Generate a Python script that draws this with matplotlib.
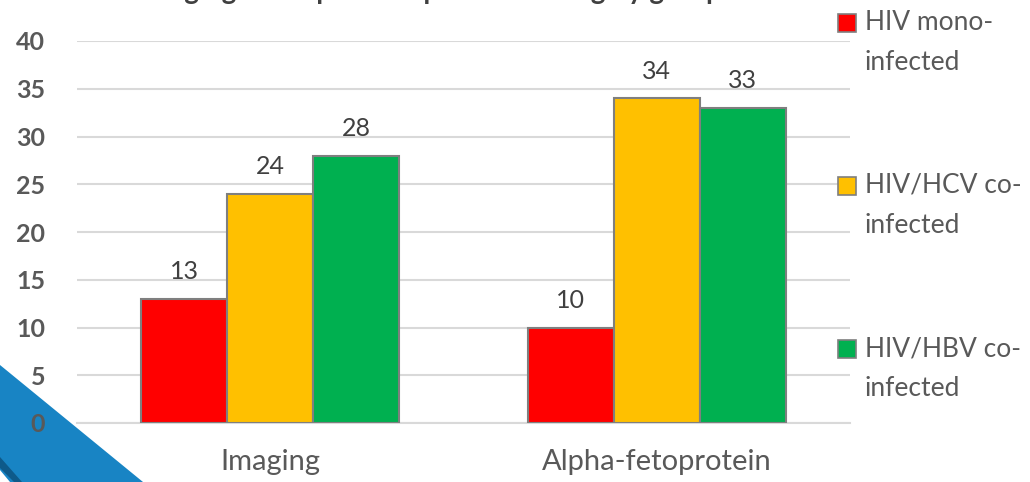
import matplotlib
matplotlib.use("Agg")
import matplotlib.pyplot as plt
from matplotlib.patches import Polygon, Rectangle
import numpy as np

plt.rcParams['font.family'] = ['Lato', 'DejaVu Sans']

# Data
categories = ["Imaging", "Alpha-fetoprotein"]
series_names = ["HIV mono-\ninfected", "HIV/HCV co-\ninfected", "HIV/HBV co-\ninfected"]
mono = [13, 10]
hcv = [24, 34]
hbv = [28, 33]
colors = ["#FF0000", "#FFC000", "#00B050"]
yticks = [0, 5, 10, 15, 20, 25, 30, 35, 40]
title = "Imaging and alpha-fetoprotein testing by group"

W, H = 1030, 482
fig = plt.figure(figsize=(W / 100, H / 100), dpi=100)
ax = fig.add_axes([77 / W, 59 / H, 773 / W, 382 / H])

x = np.arange(len(categories))
bar_w = 0.2225
for i, vals in enumerate([mono, hcv, hbv]):
    bars = ax.bar(x + (i - 1) * bar_w, vals, bar_w, color=colors[i],
                  edgecolor="#7F7F7F", linewidth=1.5, zorder=3)
    for b, v in zip(bars, vals):
        ax.annotate(str(v), (b.get_x() + b.get_width() / 2, v),
                    xytext=(0, 14), textcoords="offset points",
                    ha="center", va="baseline", fontsize=18, color="#404040")

ax.set_xlim(-0.5, 1.5)
ax.set_ylim(0, 40)
ax.set_yticks(yticks)
ax.set_xticks(x)
ax.set_xticklabels(categories, fontsize=21, color="#595959")
for lbl in ax.get_yticklabels():
    lbl.set_fontsize(18)
    lbl.set_fontweight("bold")
    lbl.set_color("#595959")
ax.tick_params(axis="both", length=0)
ax.tick_params(axis="y", pad=23)
ax.tick_params(axis="x", pad=19)
ax.yaxis.grid(True, color="#D9D9D9", linewidth=1.5, zorder=0)
for s in ["top", "right", "left"]:
    ax.spines[s].set_visible(False)
ax.spines["bottom"].set_color("#D9D9D9")
ax.spines["bottom"].set_linewidth(1.5)

# legend drawn on the right, one line of text at a time
for i, name in enumerate(series_names):
    base = 30 + i * 163
    fig.patches.append(Rectangle((838 / W, 1 - (base + 2) / H), 18 / W, 18 / H,
                                 transform=fig.transFigure, facecolor=colors[i],
                                 edgecolor="#7F7F7F", linewidth=1.2))
    for j, line in enumerate(name.split("\n")):
        fig.text(865 / W, 1 - (base + 40 * j) / H, line, fontsize=19,
                 color="#595959", va="baseline", ha="left")

# title, mostly cut off at the top edge
fig.text(430 / W, 1 + 1 / H, title, fontsize=20, fontweight="bold",
         color="#404040", ha="center", va="baseline")

# slide decoration in the lower left corner
fig.patches.append(Polygon([(0, 1 - 365 / H), (143 / W, 0), (0, 0)],
                           closed=True, transform=fig.transFigure,
                           facecolor="#1884C4", edgecolor="none", zorder=-2))
fig.patches.append(Polygon([(0, 1 - 457 / H), (22 / W, 0), (14 / W, 0), (0, 1 - 468 / H)],
                           closed=True, transform=fig.transFigure,
                           facecolor="#0E5A8A", edgecolor="none", zorder=-2))
fig.patches.append(Polygon([(0, 1 - 470 / H), (10 / W, 0), (0, 0)],
                           closed=True, transform=fig.transFigure,
                           facecolor="white", edgecolor="none", zorder=-2))

fig.savefig("out.png", dpi=100)
